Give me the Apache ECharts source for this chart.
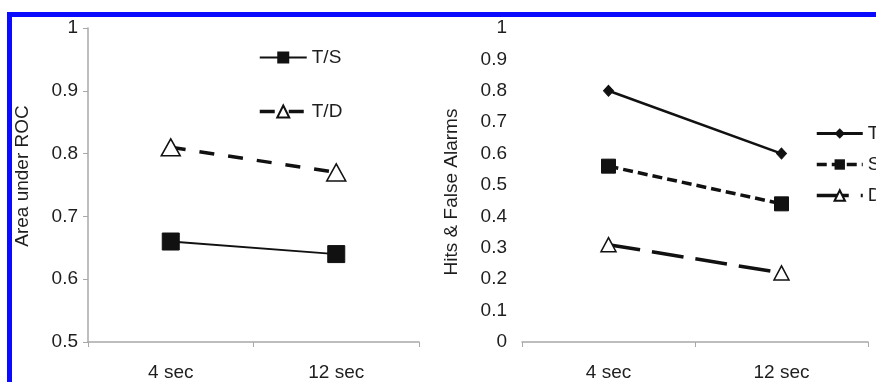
<!DOCTYPE html>
<html>
<head>
<meta charset="utf-8">
<script src="https://cdn.jsdelivr.net/npm/echarts@6/dist/echarts.min.js"></script>
<style>
  html, body { margin: 0; padding: 0; background: #fff; }
  #chart { width: 876px; height: 382px; }
</style>
</head>
<body>
<div id="chart"></div>
<script>
// Delay conditions shared by both panels
const delays = ['4 sec', '12 sec'];

// Left panel: area under the ROC curve
const rocTS = [0.66, 0.64];
const rocTD = [0.81, 0.77];

// Right panel: hit and false-alarm rates
const rateT = [0.80, 0.60];
const rateS = [0.56, 0.44];
const rateD = [0.31, 0.22];

const FONT = '"Liberation Sans", Arial, sans-serif';
const FS = 19;
const AXIS_GRAY = '#a8a8a8';
const INK = '#111';
const TEXT = '#1e1e1e';

const chart = echarts.init(document.getElementById('chart'), null, { renderer: 'canvas' });

const catAxis = (gridIndex) => ({
  type: 'category',
  gridIndex,
  data: delays,
  boundaryGap: true,
  axisLine: { show: true, lineStyle: { color: AXIS_GRAY, width: 1.5 } },
  axisTick: { show: true, length: 5, lineStyle: { color: AXIS_GRAY } },
  axisLabel: { fontFamily: FONT, fontSize: FS, color: TEXT, margin: 21 },
  splitLine: { show: false }
});

chart.setOption({
  animation: false,
  backgroundColor: '#fff',
  grid: [
    { left: 88, top: 28, width: 331, height: 318 },
    { left: 522, top: 28, width: 346, height: 317 }
  ],
  xAxis: [catAxis(0), catAxis(1)],
  yAxis: [
    {
      type: 'value', gridIndex: 0, min: 0.5, max: 1, interval: 0.1,
      name: 'Area under ROC', nameLocation: 'middle', nameGap: 56, nameRotate: 90,
      nameTextStyle: { fontFamily: FONT, fontSize: FS, color: TEXT, padding: [0, 0, 0, 18] },
      axisLine: { show: true, lineStyle: { color: AXIS_GRAY, width: 1.5 } },
      axisTick: { show: true, length: 5, lineStyle: { color: AXIS_GRAY } },
      axisLabel: { fontFamily: FONT, fontSize: FS, color: TEXT, margin: 10 },
      splitLine: { show: false }
    },
    {
      type: 'value', gridIndex: 1, min: 0, max: 1, interval: 0.1,
      name: 'Hits & False Alarms', nameLocation: 'middle', nameGap: 61, nameRotate: 90,
      nameTextStyle: { fontFamily: FONT, fontSize: FS, color: TEXT, padding: [0, 14, 0, 0] },
      axisLine: { show: false },
      axisTick: { show: false },
      axisLabel: { fontFamily: FONT, fontSize: FS, color: TEXT, margin: 15 },
      splitLine: { show: false }
    }
  ],
  legend: [
    {
      orient: 'vertical', left: 258, top: 48, padding: 0,
      itemWidth: 47, itemHeight: 15, itemGap: 35,
      textStyle: { fontFamily: FONT, fontSize: FS, color: TEXT },
      data: [
        { name: 'T/S', lineStyle: { width: 2 } },
        { name: 'T/D', lineStyle: { width: 3.5 } }
      ]
    },
    {
      orient: 'vertical', left: 815, top: 124, padding: 0,
      itemWidth: 46, itemHeight: 13, itemGap: 12,
      textStyle: { fontFamily: FONT, fontSize: FS, color: TEXT },
      data: [
        { name: 'T', lineStyle: { width: 3 } },
        { name: 'S', lineStyle: { width: 3.5 } },
        { name: 'D', lineStyle: { width: 3.5 } }
      ]
    }
  ],
  series: [
    {
      name: 'T/S', type: 'line', xAxisIndex: 0, yAxisIndex: 0, data: rocTS,
      symbol: 'rect', symbolSize: 17,
      itemStyle: { color: INK, borderColor: INK },
      lineStyle: { color: INK, width: 1.8, type: 'solid' }
    },
    {
      name: 'T/D', type: 'line', xAxisIndex: 0, yAxisIndex: 0, data: rocTD,
      symbol: 'triangle', symbolSize: [19, 17],
      itemStyle: { color: '#fff', borderColor: INK, borderWidth: 1.5 },
      lineStyle: { color: INK, width: 3.5, type: [15, 14] }
    },
    {
      name: 'T', type: 'line', xAxisIndex: 1, yAxisIndex: 1, data: rateT,
      symbol: 'diamond', symbolSize: [10, 11],
      itemStyle: { color: INK, borderColor: INK },
      lineStyle: { color: INK, width: 2.6, type: 'solid' }
    },
    {
      name: 'S', type: 'line', xAxisIndex: 1, yAxisIndex: 1, data: rateS,
      symbol: 'rect', symbolSize: 14,
      itemStyle: { color: INK, borderColor: INK },
      lineStyle: { color: INK, width: 3.5, type: [10, 5] }
    },
    {
      name: 'D', type: 'line', xAxisIndex: 1, yAxisIndex: 1, data: rateD,
      symbol: 'triangle', symbolSize: [15, 14],
      itemStyle: { color: '#fff', borderColor: INK, borderWidth: 1.5 },
      lineStyle: { color: INK, width: 3.5, type: [32, 12] }
    }
  ],
  graphic: [
    // blue frame along the top and left edges
    { type: 'rect', left: 7, top: 12, shape: { width: 869, height: 5 }, style: { fill: '#0a0aff' }, z: 100 },
    { type: 'rect', left: 7, top: 12, shape: { width: 5, height: 370 }, style: { fill: '#0a0aff' }, z: 100 }
  ]
});
</script>
</body>
</html>
